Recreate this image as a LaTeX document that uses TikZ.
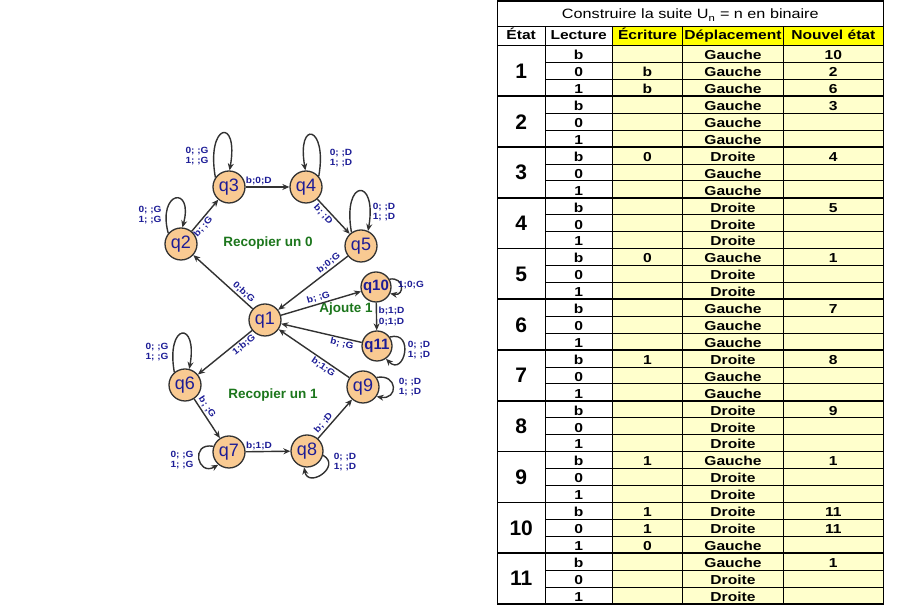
\documentclass[tikz,border=0pt]{standalone}
\usepackage{fontspec}
\setmainfont{Liberation Sans}
\newfontfamily\tabfont[FakeStretch=1.2]{Liberation Sans}
\newfontfamily\lblfont[FakeStretch=1.12]{Liberation Sans}
\usetikzlibrary{arrows.meta}

\definecolor{fondetat}{RGB}{249,202,146}
\definecolor{trait}{RGB}{50,50,50}
\definecolor{bleu}{RGB}{28,28,150}
\definecolor{vert}{RGB}{28,118,28}
\definecolor{jaune}{RGB}{255,255,0}
\definecolor{jaunepale}{RGB}{255,255,204}

\tikzset{
    etat/.style={circle, draw=trait, line width=1.3pt, fill=fondetat, minimum size=32pt, inner sep=0pt, text=bleu, font=\fontsize{18}{18}\selectfont},
    etatgras/.style={etat, minimum size=30pt, font=\bfseries\fontsize{15}{15}\selectfont},
    trans/.style={->, draw=trait, line width=1.4pt},
    lbl/.style={text=bleu, inner sep=1.5pt, font=\lblfont\bfseries\fontsize{9}{10.5}\selectfont, align=center},
    groupe/.style={text=vert, font=\bfseries\fontsize{13.5}{13.5}\selectfont},
    cell/.style={inner sep=0pt, text height=9.3pt, text depth=0pt, font=\tabfont\bfseries\fontsize{13}{13}\selectfont},
    numetat/.style={inner sep=0pt, text height=15pt, text depth=0pt, font=\bfseries\fontsize{21}{21}\selectfont},
    fin/.style={line width=0.8pt},
    epais/.style={line width=1.6pt},
}

\begin{document}
\begin{tikzpicture}[x=1pt, y=1pt, >={Stealth[length=7pt, width=6pt]}]
    \useasboundingbox[fill=white] (0,0) rectangle (900,607);

    % automate
    \node[etat] (q1) at (265,287) {q1};
    \node[etat] (q2) at (181,363) {q2};
    \node[etat] (q3) at (229,420) {q3};
    \node[etat] (q4) at (306,420) {q4};
    \node[etat] (q5) at (361,361) {q5};
    \node[etatgras] (q10) at (376,320) {q10};
    \node[etatgras] (q11) at (377,261) {q11};
    \node[etat] (q6) at (185,222) {q6};
    \node[etat] (q7) at (229,155) {q7};
    \node[etat] (q8) at (307,156) {q8};
    \node[etat] (q9) at (363,220) {q9};

    \node[groupe] (rec0) at (268,364) {Recopier un 0};
    \node[groupe] (rec1) at (273,212) {Recopier un 1};
    \node[groupe] (ajoute) at (346,298) {Ajoute 1};

    \draw[trans] (q2) -- node[lbl, sloped, below, pos=0.26] {b; ;G} (q3);
    \draw[trans] (q3) -- node[lbl, above, pos=0.3] {b;0;D} (q4);
    \draw[trans] (q4) -- node[lbl, sloped, below, pos=0.32] {b; ;D} (q5);
    \draw[trans] (q5) -- node[lbl, sloped, above, pos=0.22] {b;0;G} (q1);
    \draw[trans] (q1) -- node[lbl, sloped, above, pos=0.22] {0;b;G} (q2);
    \draw[trans] (q1) -- node[lbl, sloped, above, pos=0.49] {b; ;G} (q10);
    \draw[trans] (q10) -- node[lbl, right] {b;1;D\\0;1;D} (q11);
    \draw[trans] (q11) -- node[lbl, sloped, below, pos=0.23] {b; ;G} (q1);
    \draw[trans] (q1) -- node[lbl, sloped, below, pos=0.22] {1;b;G} (q6);
    \draw[trans] (q6) -- node[lbl, sloped, above, pos=0.3] {b; ;G} (q7);
    \draw[trans] (q7) -- node[lbl, above, pos=0.3] {b;1;D} (q8);
    \draw[trans] (q8) -- node[lbl, sloped, above, pos=0.3] {b; ;D} (q9);
    \draw[trans] (q9) -- node[lbl, sloped, below, pos=0.32] {b;1;G} (q1);

    % boucles
    \draw[trans] (q2.140) to[out=105, in=75, distance=44pt] (q2.85);
    \draw[trans] (q3.145) to[out=100, in=80, distance=55pt] (q3.88);
    \draw[trans] (q4.40) to[out=80, in=100, distance=52pt] (q4.92);
    \draw[trans] (q5.125) to[out=100, in=80, distance=55pt] (q5.65);
    \draw[trans] (q6.130) to[out=100, in=80, distance=50pt] (q6.75);
    \draw[trans] (q10.30) to[out=10, in=-10, distance=15pt] (q10.-25);
    \draw[trans] (q11.35) to[out=15, in=-45, distance=26pt] (q11.-55);
    \draw[trans] (q9.35) to[out=10, in=-10, distance=22pt] (q9.-35);
    \draw[trans] (q7.160) to[out=170, in=-150, distance=24pt] (q7.-130);
    \draw[trans] (q8.-15) to[out=-30, in=-80, distance=22pt] (q8.-100);

    \node[lbl] (b2) at (150,392) {0; ;G\\1; ;G};
    \node[lbl] (b3) at (197,451) {0; ;G\\1; ;G};
    \node[lbl] (b4) at (341,449) {0; ;D\\1; ;D};
    \node[lbl] (b5) at (384,395) {0; ;D\\1; ;D};
    \node[lbl] (b10) at (411,322) {1;0;G};
    \node[lbl] (b11) at (419,257) {0; ;D\\1; ;D};
    \node[lbl] (b6) at (157,255) {0; ;G\\1; ;G};
    \node[lbl] (b9) at (410,220) {0; ;D\\1; ;D};
    \node[lbl] (b7) at (182,147) {0; ;G\\1; ;G};
    \node[lbl] (b8) at (345,145) {0; ;D\\1; ;D};

    % tableau
    \fill[jaune] (612.3,561.5) rectangle (883.3,580.3);
    \fill[jaunepale] (612.3,3.1) rectangle (883.3,561.5);
    \foreach \i in {1,...,32}
        \draw[fin] (545,{561.5-\i*16.92}) -- (883.3,{561.5-\i*16.92});
    \foreach \k in {0,...,10}
        \draw[epais] (497.3,{561.5-3*\k*16.92}) -- (883.3,{561.5-3*\k*16.92});
    \foreach \x in {545,612.3,682.7,783.3}
        \draw[fin] (\x,3.1) -- (\x,580.3);
    \draw[fin] (497.3,580.3) -- (883.3,580.3);
    \draw[epais] (497.3,3.1) rectangle (883.3,606);

    \node[cell, font=\tabfont\fontsize{13.5}{13.5}\selectfont] (titre) at (690.3,592.7) {Construire la suite U\textsubscript{n} = n en binaire};
    \node[cell] (hetat) at (521.2,572) {État};
    \node[cell] (hlec) at (578.7,572) {Lecture};
    \node[cell] (hecr) at (647.5,572) {Écriture};
    \node[cell] (hdep) at (733,572) {Déplacement};
    \node[cell] (hnouv) at (833.3,572) {Nouvel état};

    \foreach \n in {1,...,11}
        \node[numetat] (etat\n) at (521.2,{561.5-(3*\n-1.5)*16.92}) {\n};

    \foreach \lec/\ecr/\dep/\nouv [count=\i from 0] in {
        b/{}/Gauche/10, 0/b/Gauche/2, 1/b/Gauche/6,
        b/{}/Gauche/3, 0/{}/Gauche/{}, 1/{}/Gauche/{},
        b/0/Droite/4, 0/{}/Gauche/{}, 1/{}/Gauche/{},
        b/{}/Droite/5, 0/{}/Droite/{}, 1/{}/Droite/{},
        b/0/Gauche/1, 0/{}/Droite/{}, 1/{}/Droite/{},
        b/{}/Gauche/7, 0/{}/Gauche/{}, 1/{}/Gauche/{},
        b/1/Droite/8, 0/{}/Gauche/{}, 1/{}/Gauche/{},
        b/{}/Droite/9, 0/{}/Droite/{}, 1/{}/Droite/{},
        b/1/Gauche/1, 0/{}/Droite/{}, 1/{}/Droite/{},
        b/1/Droite/11, 0/1/Droite/11, 1/0/Gauche/{},
        b/{}/Gauche/1, 0/{}/Droite/{}, 1/{}/Droite/{}} {
        \pgfmathsetmacro\yc{561.5-(\i+0.5)*16.92-1.2}
        \node[cell] (lec\i) at (578.7,\yc) {\lec};
        \node[cell] (ecr\i) at (647.5,\yc) {\ecr};
        \node[cell] (dep\i) at (733,\yc) {\dep};
        \node[cell] (nouv\i) at (833.3,\yc) {\nouv};
    }
\end{tikzpicture}
\end{document}
